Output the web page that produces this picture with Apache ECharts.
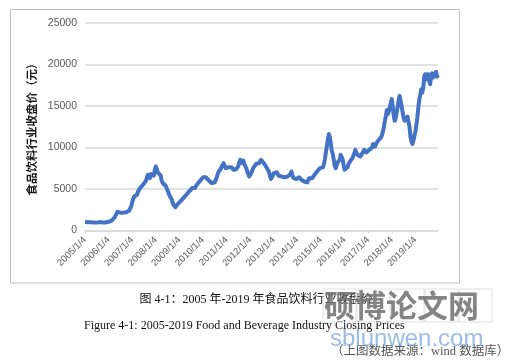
<!DOCTYPE html>
<html><head><meta charset="utf-8">
<script src="https://cdn.jsdelivr.net/npm/echarts@6/dist/echarts.min.js"></script>
<style>html,body{margin:0;padding:0;background:#fff}#c{width:512px;height:362px}</style>
</head><body><div id="c"></div>
<script>
// years shown; each year holds 24 half-monthly closing values
const years = [2005,2006,2007,2008,2009,2010,2011,2012,2013,2014,2015,2016,2017,2018,2019];
const v2005 = [1020,1050,1030,1000,990,1010,980,950,930,960,940,920,950,980,1000,1010,990,970,960,980,1000,970,950,990];
const v2006 = [1050,1080,1120,1180,1300,1400,1550,1750,2000,2250,2350,2250,2150,2100,2180,2150,2200,2250,2200,2300,2280,2400,2600,2900];
const v2007 = [3400,3800,4100,3900,4000,4300,4700,4900,5100,5300,5100,5500,5700,5600,6000,6400,6700,6500,6300,6800,7000,6700,6600,7300];
const v2008 = [7700,7400,7000,6800,7200,6600,6000,5700,5600,5500,5400,5100,4800,4600,4200,4000,3800,3400,3100,2900,2800,3000,3150,3250];
const v2009 = [3300,3500,3400,3700,3900,3800,4100,4300,4200,4500,4700,4600,4900,5100,4900,5200,5100,5400,5300,5700,5900,5700,6100,6300];
const v2010 = [6400,6500,6300,6400,6200,6300,6000,5900,5800,5700,5600,5900,5800,6100,6400,6800,7100,7000,7400,7700,7900,8100,7800,7500];
const v2011 = [7500,7400,7600,7500,7400,7600,7500,7300,7400,7200,7400,7300,7800,8200,8500,8300,8100,8400,8000,7800,7500,7100,6800,6500];
const v2012 = [6600,6900,7200,7500,7300,7700,8000,7900,8200,8100,8300,8500,8400,8200,8000,7900,7700,7500,7300,7100,6600,6200,6000,6600];
const v2013 = [6900,6700,6800,7000,6800,6600,6400,6600,6500,6300,6500,6400,6200,6400,6500,6300,6600,6800,7100,6600,6300,6200,6100,6200];
const v2014 = [6300,6200,6400,6200,6100,6200,6000,5900,5800,5700,5800,6000,6300,6500,6400,6300,6300,6500,6800,7000,7100,7000,7300,7500];
const v2015 = [7400,7300,7600,8000,8600,9400,10200,11000,11600,11200,10400,9600,9200,8500,7800,7500,7900,8200,8000,8500,9100,9300,8600,7900];
const v2016 = [7300,7100,7300,7600,8000,8200,8400,8300,8700,9000,9300,9700,9400,9100,9000,9200,8900,9100,9300,9500,9700,9500,9400,9300];
const v2017 = [9500,9700,9600,9900,10000,10400,10300,10100,10400,10600,10800,11000,10900,11200,11500,11900,12500,13200,13800,14500,14000,14300,14800,15400];
const v2018 = [15800,14900,13800,13200,13500,14200,14900,15700,16200,15600,15000,14200,13600,13200,13000,13400,13700,13500,12500,11300,10700,10400,10800,11400];
const v2019 = [11900,12700,13600,14800,15800,16300,17000,16600,17200,18500,18800,18200,18500,18800,18000,17600,18600,18900,18400,18700,18900,19100,18500,18700];
const yTicks = [0,5000,10000,15000,20000,25000];

const yearValues = [v2005,v2006,v2007,v2008,v2009,v2010,v2011,v2012,v2013,v2014,v2015,v2016,v2017,v2018,v2019];
const categories = [], values = [];
years.forEach((y, i) => {
  yearValues[i].forEach((v, k) => {
    categories.push(y + '/' + (Math.floor(k / 2) + 1) + '/' + (k % 2 === 0 ? 4 : 19));
    values.push(v);
  });
});
const isYearStart = (idx) => idx % 24 === 0;

const chart = echarts.init(document.getElementById('c'), null, {renderer: 'canvas'});
chart.setOption({
  animation: false,
  backgroundColor: '#fff',
  grid: {left: 85, right: 74, top: 22.7, bottom: 131.5, containLabel: false},
  xAxis: {
    type: 'category', data: categories, boundaryGap: false,
    axisLine: {lineStyle: {color: '#d9d9d9', width: 1.5}},
    axisTick: {show: true, interval: (i) => isYearStart(i), length: 3, lineStyle: {color: '#d9d9d9'}},
    axisLabel: {interval: (i) => isYearStart(i), rotate: 45, margin: 8, fontSize: 9.5,
      color: '#595959', fontFamily: 'Liberation Sans, Arial'},
    splitLine: {show: false}
  },
  yAxis: {
    type: 'value', min: yTicks[0], max: yTicks[yTicks.length - 1], interval: 5000,
    name: '食品饮料行业收盘价（元）', nameLocation: 'middle', nameRotate: 90, nameGap: 43,
    nameTextStyle: {fontSize: 11.5, fontWeight: 'bold', color: '#1a1a1a', fontFamily: 'Noto Sans CJK SC'},
    axisLine: {show: false}, axisTick: {show: false},
    axisLabel: {fontSize: 10.5, color: '#595959', margin: 8, fontFamily: 'Liberation Sans, Arial',
      formatter: (v) => String(v)},
    splitLine: {lineStyle: {color: '#d9d9d9', width: 1.5}}
  },
  series: [{
    type: 'line', data: values, showSymbol: false, symbol: 'none',
    lineStyle: {color: '#4472C4', width: 4, join: 'round'}
  }],
  graphic: [
    {type: 'rect', shape: {x: 10.5, y: 9.5, width: 449, height: 273.5}, style: {fill: 'none', stroke: '#c0c0c0', lineWidth: 1}, z: 0},
    {type: 'text', left: 'center', top: 294, style: {text: '图 4-1：2005 年-2019 年食品饮料行业收盘价', font: '12px "Liberation Serif", "Noto Sans CJK SC"', fill: '#111', x: 4}},
    {type: 'text', x: 84, y: 320, style: {text: 'Figure 4-1: 2005-2019 Food and Beverage Industry Closing Prices', font: '12px "Liberation Serif"', fill: '#111'}},
    {type: 'text', x: 331, y: 345, style: {text: '（上图数据来源：wind 数据库）', font: '12.5px "Liberation Serif", "Noto Sans CJK SC"', fill: '#555'}},
    // watermark
    {type: 'group', children: [0,1,2,3,4].map(i => ({type: 'rect', shape: {x: 323 + i * 34, y: 289, width: 33, height: 33}, style: {fill: 'none', stroke: '#e0e0e0', lineWidth: 1}})), z: 10},
    {type: 'text', x: 324, y: 290, z: 11, style: {text: '硕博论文网', font: 'bold 31px "Noto Sans CJK SC"', fill: 'rgba(110,110,110,0.85)'}},
    {type: 'text', x: 330, y: 327, z: 11, style: {text: 'sblunwen.com', font: '24px "Liberation Sans", Arial', fill: 'rgba(120,165,225,0.75)'}}
  ]
});
</script></body></html>
